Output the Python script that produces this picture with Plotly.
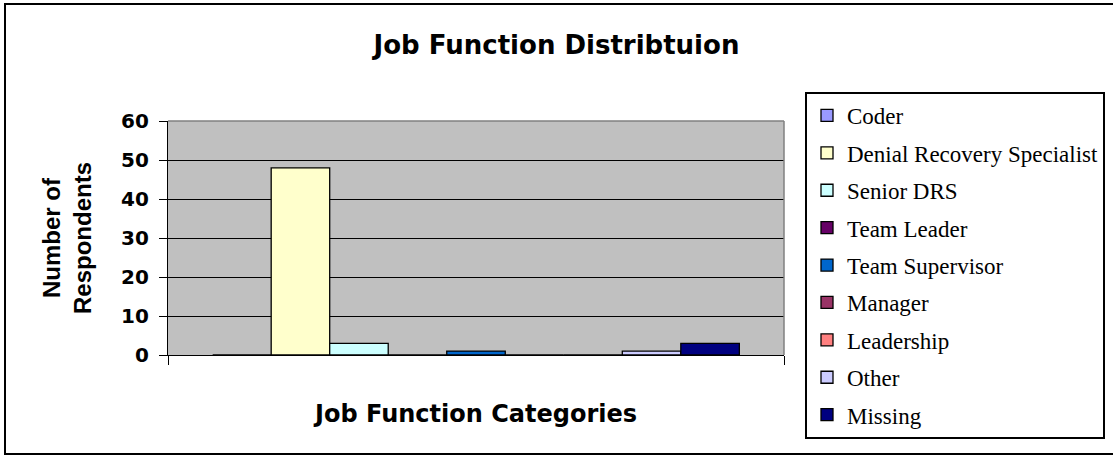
import plotly.graph_objects as go

categories = ["Coder", "Denial Recovery Specialist", "Senior DRS", "Team Leader",
              "Team Supervisor", "Manager", "Leadership", "Other", "Missing"]
values = [0, 48, 3, 0, 1, 0, 0, 1, 3]
colors = ["#9999FF", "#FFFFCC", "#CCFFFF", "#660066", "#0066CC",
          "#993366", "#FF8080", "#CCCCFF", "#000080"]
group_label = ["Job Function"]
y_ticks = [0, 10, 20, 30, 40, 50, 60]

W, H = 1113, 455
# visible plot box (pixels)
PL, PR, PT, PB = 168, 784, 121, 355
# figure margins (taller plotting region so legend fits)
ML, MR, MT, MB = PL, W - PR, 40, 10
PW, PH = W - ML - MR, H - MT - MB


def px(x):
    return (x - ML) / PW


def py(y):
    return (H - MB - y) / PH


Y0, Y1 = py(PB), py(PT)

fig = go.Figure()
for i, (name, val, col) in enumerate(zip(categories, values, colors)):
    fig.add_trace(go.Bar(
        x=group_label, y=[val], name=name,
        marker=dict(color=col, line=dict(color="black", width=1.3)),
        legendgroup=f"g{i}",
    ))

fig.update_layout(
    width=W, height=H,
    margin=dict(l=ML, r=MR, t=MT, b=MB, autoexpand=False),
    paper_bgcolor="white",
    plot_bgcolor="#C0C0C0",
    barmode="group", bargap=0.145, bargroupgap=0,
    title=dict(text="<b>Job Function Distribtuion</b>", x=0.5, xanchor="center",
               y=1 - 45 / H, yanchor="middle",
               font=dict(family="DejaVu Sans", size=26, color="black")),
    showlegend=True,
    legend=dict(x=px(805), xanchor="left", y=py(92), yanchor="top",
                bgcolor="white", bordercolor="black", borderwidth=2,
                font=dict(family="Liberation Serif", size=23, color="black"),
                tracegroupgap=4.5, traceorder="grouped"),
    xaxis=dict(type="category", showticklabels=False, ticks="outside",
               tickson="boundaries", ticklen=9, tickcolor="black", tickwidth=1.3,
               showline=True, linecolor="black", linewidth=1.3, showgrid=False,
               automargin=False,
               title=dict(text="<b>Job Function Categories</b>", standoff=50,
                          font=dict(family="DejaVu Sans", size=24, color="black"))),
    yaxis=dict(domain=[Y0, Y1], range=[0, 60], tickvals=y_ticks, ticks="outside",
               ticklen=8, tickcolor="black", tickwidth=1.3, showline=True,
               linecolor="black", linewidth=1.3, showgrid=True, gridcolor="black",
               gridwidth=1.3, zeroline=False, ticklabelstandoff=6, automargin=False,
               tickfont=dict(family="DejaVu Sans", size=20, color="black", weight="bold"),
               title=dict(text="<b>Number of<br>Respondents</b>", standoff=22,
                          font=dict(family="Liberation Sans", size=24, color="black"))),
    shapes=[
        dict(type="rect", xref="paper", yref="paper", x0=px(5), x1=px(1125),
             y0=py(454), y1=py(4), line=dict(color="black", width=2), layer="below"),
        dict(type="line", xref="paper", yref="paper", x0=0, x1=1, y0=Y1, y1=Y1,
             line=dict(color="#808080", width=1.5), layer="above"),
        dict(type="line", xref="paper", yref="paper", x0=1, x1=1, y0=Y0, y1=Y1,
             line=dict(color="#808080", width=1.5), layer="above"),
    ],
)

fig.write_html("out.html")
